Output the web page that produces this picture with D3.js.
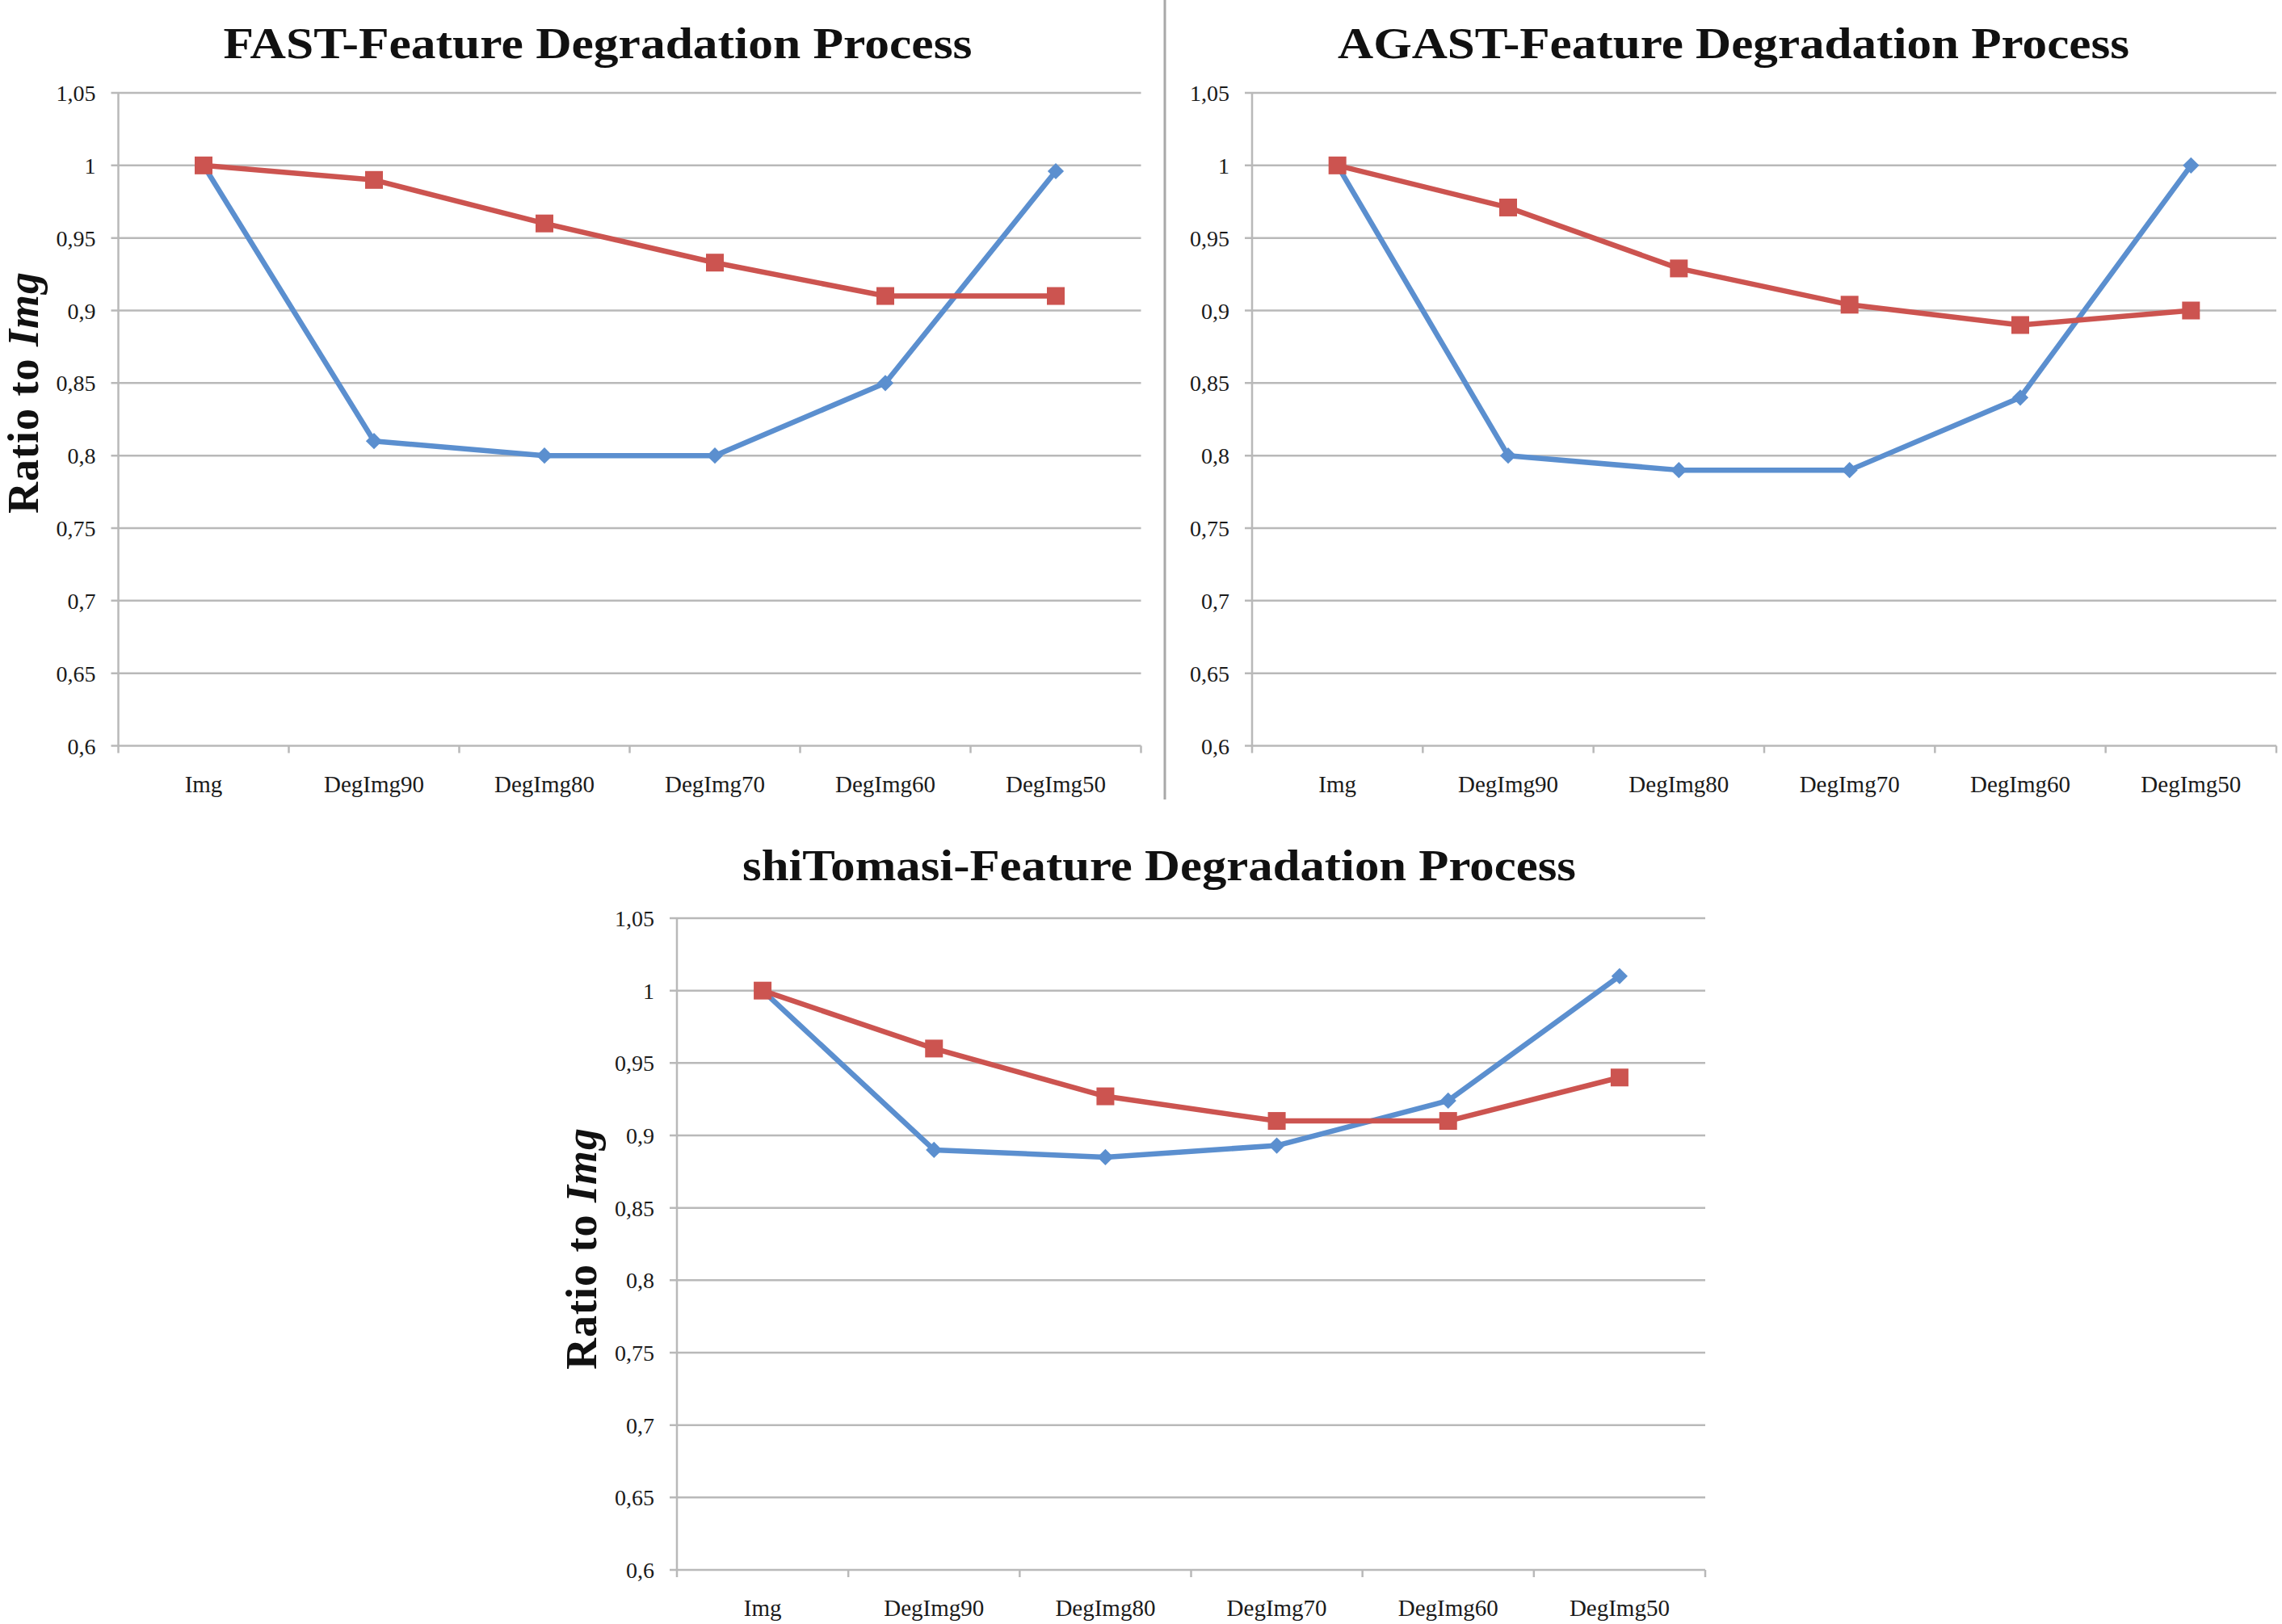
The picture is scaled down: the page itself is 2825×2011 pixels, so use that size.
<!DOCTYPE html>
<html lang="en">
<head>
    <meta charset="UTF-8">
    <title>Feature Degradation Process</title>
    <script src="https://d3js.org/d3.v7.min.js"></script>
    <style>
        body { margin: 0; background: #fff; }
        svg { display: block; }
        .title { font-family: "Liberation Serif", serif; font-weight: bold; fill: #111; }
        .tick-label { font-family: "Liberation Serif", serif; fill: #1a1a1a; }
        .axis-title { font-family: "Liberation Serif", serif; font-weight: bold; fill: #111; }
    </style>
</head>
<body>
    <svg id="chart"></svg>
    <script>
        // data
        const categories = ["Img", "DegImg90", "DegImg80", "DegImg70", "DegImg60", "DegImg50"];
        const yTicks = [0.6, 0.65, 0.7, 0.75, 0.8, 0.85, 0.9, 0.95, 1, 1.05];

        const fastRed   = [1, 0.99, 0.96, 0.933, 0.91, 0.91];
        const fastBlue  = [1, 0.81, 0.80, 0.80, 0.85, 0.996];
        const agastRed  = [1, 0.971, 0.929, 0.904, 0.89, 0.90];
        const agastBlue = [1, 0.80, 0.79, 0.79, 0.84, 1.0];
        const shiRed    = [1, 0.96, 0.927, 0.91, 0.91, 0.94];
        const shiBlue   = [1, 0.89, 0.885, 0.893, 0.924, 1.01];

        const RED = "#cc5450";
        const BLUE = "#5b8fcf";
        const GRID = "#b9b9b9";

        const W = 2825, H = 2011;
        const svg = d3.select("#chart").attr("width", W).attr("height", H);
        svg.append("rect").attr("width", W).attr("height", H).attr("fill", "#fff");

        const panels = [
            { title: "FAST-Feature Degradation Process", red: fastRed, blue: fastBlue,
              left: 146.5, right: 1412.5, top: 115, bottom: 923.5,
              titleX: 740, titleY: 72, titleLen: 927,
              yTitle: true, yTitleX: 47, yTitleY: 486 },
            { title: "AGAST-Feature Degradation Process", red: agastRed, blue: agastBlue,
              left: 1550, right: 2818, top: 115, bottom: 923.5,
              titleX: 2146, titleY: 72, titleLen: 980,
              yTitle: false },
            { title: "shiTomasi-Feature Degradation Process", red: shiRed, blue: shiBlue,
              left: 838, right: 2111, top: 1137, bottom: 1944,
              titleX: 1435, titleY: 1090, titleLen: 1032,
              yTitle: true, yTitleX: 738, yTitleY: 1546 }
        ];

        const fmt = v => String(+v.toFixed(2)).replace(".", ",");

        function drawPanel(p) {
            const g = svg.append("g");
            const x = d3.scaleBand().domain(categories).range([p.left, p.right]).padding(0);
            const y = d3.scaleLinear().domain([0.6, 1.05]).range([p.bottom, p.top]);

            // gridlines
            g.selectAll(".grid").data(yTicks).enter().append("line")
                .attr("x1", p.left - 9).attr("x2", p.right)
                .attr("y1", d => y(d)).attr("y2", d => y(d))
                .attr("stroke", GRID).attr("stroke-width", 2.5);

            // y axis line
            g.append("line")
                .attr("x1", p.left).attr("x2", p.left)
                .attr("y1", p.top).attr("y2", p.bottom + 9)
                .attr("stroke", GRID).attr("stroke-width", 2.5);

            // x ticks at band boundaries
            const bounds = categories.map(c => x(c)).concat([p.right]);
            g.selectAll(".xtick").data(bounds.slice(1)).enter().append("line")
                .attr("x1", d => d).attr("x2", d => d)
                .attr("y1", p.bottom).attr("y2", p.bottom + 9)
                .attr("stroke", GRID).attr("stroke-width", 2.5);

            // y labels
            g.selectAll(".ylab").data(yTicks).enter().append("text")
                .attr("class", "tick-label")
                .attr("x", p.left - 28).attr("y", d => y(d) + 10)
                .attr("text-anchor", "end")
                .attr("font-size", 28)
                .text(fmt);

            // x labels
            g.selectAll(".xlab").data(categories).enter().append("text")
                .attr("class", "tick-label")
                .attr("x", d => x(d) + x.bandwidth() / 2).attr("y", p.bottom + 57)
                .attr("text-anchor", "middle")
                .attr("font-size", 29)
                .text(d => d);

            // title
            g.append("text").attr("class", "title")
                .attr("x", p.titleX).attr("y", p.titleY)
                .attr("text-anchor", "middle")
                .attr("font-size", 54)
                .attr("textLength", p.titleLen).attr("lengthAdjust", "spacingAndGlyphs")
                .text(p.title);

            if (p.yTitle) {
                const t = g.append("text").attr("class", "axis-title")
                    .attr("transform", `translate(${p.yTitleX},${p.yTitleY}) rotate(-90)`)
                    .attr("text-anchor", "middle")
                    .attr("font-size", 54)
                    .attr("letter-spacing", 1);
                t.append("tspan").text("Ratio to ");
                t.append("tspan").attr("font-style", "italic").text("Img");
            }

            const cx = (d, i) => x(categories[i]) + x.bandwidth() / 2;
            const line = d3.line().x((d, i) => cx(d, i)).y(d => y(d));

            // blue series (diamonds)
            g.append("path").datum(p.blue).attr("d", line)
                .attr("fill", "none").attr("stroke", BLUE).attr("stroke-width", 6.5)
                .attr("stroke-linejoin", "round");
            // red series (squares)
            g.append("path").datum(p.red).attr("d", line)
                .attr("fill", "none").attr("stroke", RED).attr("stroke-width", 6.5)
                .attr("stroke-linejoin", "round");

            g.selectAll(".dia").data(p.blue).enter().append("path")
                .attr("d", d3.symbol().type(d3.symbolDiamond2).size(260))
                .attr("transform", (d, i) => `translate(${cx(d, i)},${y(d)})`)
                .attr("fill", BLUE);
            g.selectAll(".sq").data(p.red).enter().append("rect")
                .attr("x", (d, i) => cx(d, i) - 11).attr("y", d => y(d) - 11)
                .attr("width", 22).attr("height", 22)
                .attr("fill", RED);
        }

        panels.forEach(drawPanel);

        // divider between the two top charts
        svg.append("line")
            .attr("x1", 1442).attr("x2", 1442).attr("y1", 0).attr("y2", 990)
            .attr("stroke", "#a8a8a8").attr("stroke-width", 3);
    </script>
</body>
</html>
